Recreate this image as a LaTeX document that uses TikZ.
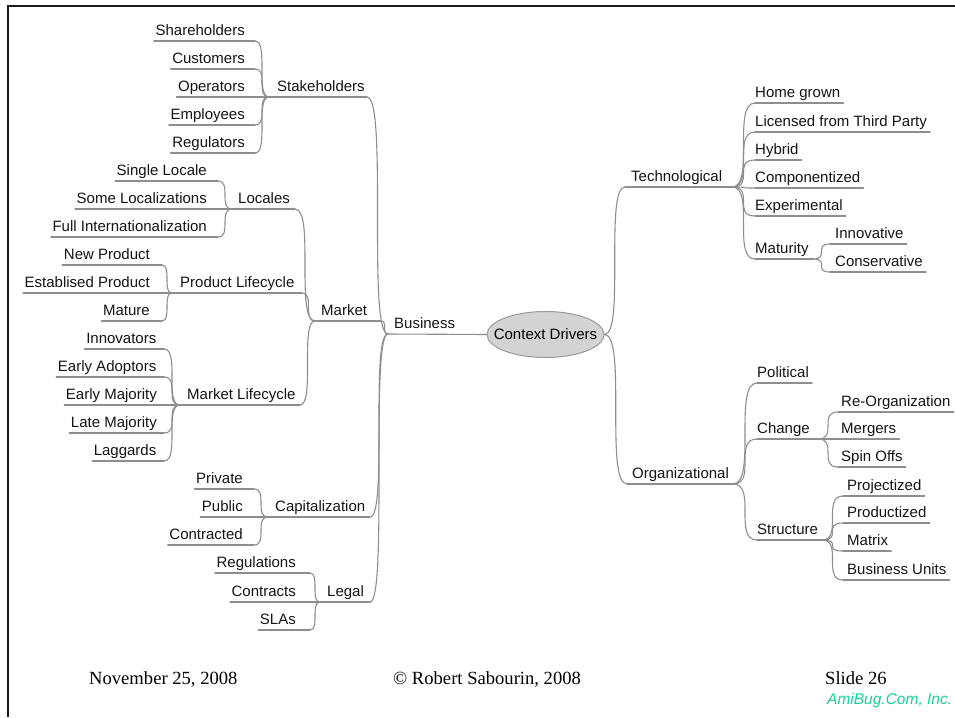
\documentclass[tikz,border=0pt]{standalone}
\usepackage{fontspec}
\setmainfont{Liberation Sans}
\newfontfamily\footfont{Liberation Serif}
\usetikzlibrary{calc,shapes.geometric}
\definecolor{lncol}{HTML}{8E8E8E}
\definecolor{ellfill}{HTML}{D3D3D3}
\definecolor{ellline}{HTML}{9A9A9A}
\definecolor{amigreen}{RGB}{20,210,150}
\tikzset{
  lbl/.style={inner sep=0pt, font=\fontsize{15}{17}\selectfont, text=black!92},
  ln/.style={draw=lncol, line width=1.1pt, line cap=round},
  foot/.style={inner sep=0pt, font=\footfont\fontsize{18.6}{20}\selectfont, anchor=base west}
}
\newcommand\mmLeft[5]{%
  \node[lbl,anchor=base east] (#1) at (#3,#4-5.5) {#2};
  \coordinate (#1-a) at ($(#1.base west)+(-1.5,5.5)$);
  \coordinate (#1-b) at (#5,#4);
  \draw[ln] (#1-a) -- (#1-b);}
\newcommand\mmRight[5]{%
  \node[lbl,anchor=base west] (#1) at (#3,#4-5.5) {#2};
  \coordinate (#1-a) at (#5,#4);
  \coordinate (#1-b) at ($(#1.base east)+(3,5.5)$);
  \draw[ln] (#1-a) -- (#1-b);}
\newcommand\mmMid[6]{%
  \node[lbl,anchor=base west] (#1) at (#3,#4-5.5) {#2};
  \coordinate (#1-a) at (#5,#4);
  \coordinate (#1-b) at (#6,#4);
  \draw[ln] (#1-a) -- (#1-b);}
\newcommand\mmEdge[2]{%
  \draw[ln] let \p1=(#1),\p2=(#2) in (\p1) .. controls (\x2,\y1) and (\x1,\y2) .. (\p2);}
\begin{document}
\begin{tikzpicture}[x=1pt,y=-1pt]
\useasboundingbox (0,0) rectangle (955,717);
% frame
\draw[line width=2.3pt, black!90] (7.8,717) -- (7.8,6.2) -- (955,6.2);

% centre
\node[ellipse, draw=ellline, fill=ellfill, line width=1pt, minimum width=117pt, minimum height=46pt, inner sep=0pt, font=\fontsize{15}{17}\selectfont] (ctx) at (545.5,334.5) {\makebox[0pt]{Context Drivers}};

% Business
\node[lbl,anchor=base west] (business) at (394,328.5) {Business};
\coordinate (business-a) at (388,334);
\draw[ln] (business-a) -- (ctx.west);

% Stakeholders
\mmMid{stake}{Stakeholders}{277}{97}{269}{367}
\mmLeft{shareh}{Shareholders}{245}{41}{255}
\mmLeft{custom}{Customers}{245}{69}{255}
\mmLeft{operat}{Operators}{245}{97}{255}
\mmLeft{employ}{Employees}{245}{125}{255}
\mmLeft{regula}{Regulators}{245}{153}{255}
\mmEdge{shareh-b}{stake-a}
\mmEdge{custom-b}{stake-a}
\mmEdge{operat-b}{stake-a}
\mmEdge{employ-b}{stake-a}
\mmEdge{regula-b}{stake-a}

% Market
\mmMid{market}{Market}{321}{321}{315}{381}
\mmMid{locales}{Locales}{238}{209}{232}{295}
\mmLeft{single}{Single Locale}{207}{181}{218}
\mmLeft{somelo}{Some Localizations}{207}{209}{218}
\mmLeft{fullin}{Full Internationalization}{207}{237}{218}
\mmEdge{single-b}{locales-a}
\mmEdge{somelo-b}{locales-a}
\mmEdge{fullin-b}{locales-a}

\mmMid{prodlc}{Product Lifecycle}{180}{293}{172}{302}
\mmLeft{newpro}{New Product}{150}{265}{162}
\mmLeft{estpro}{Establised Product}{150}{293}{162}
\mmLeft{mature}{Mature}{150}{321}{162}
\mmEdge{newpro-b}{prodlc-a}
\mmEdge{estpro-b}{prodlc-a}
\mmEdge{mature-b}{prodlc-a}

\mmMid{marklc}{Market Lifecycle}{187}{405}{180}{300}
\mmLeft{innova}{Innovators}{156.5}{349}{164}
\mmLeft{earlya}{Early Adoptors}{156.5}{377}{164}
\mmLeft{earlym}{Early Majority}{157}{405}{164}
\mmLeft{latema}{Late Majority}{157}{433}{164}
\mmLeft{laggar}{Laggards}{156.5}{461}{164}
\mmEdge{innova-b}{marklc-a}
\mmEdge{earlya-b}{marklc-a}
\mmEdge{earlym-b}{marklc-a}
\mmEdge{latema-b}{marklc-a}
\mmEdge{laggar-b}{marklc-a}

\mmEdge{locales-b}{market-a}
\mmEdge{prodlc-b}{market-a}
\mmEdge{marklc-b}{market-a}

% Capitalization
\mmMid{capit}{Capitalization}{275}{517}{268}{370}
\mmLeft{privat}{Private}{243}{489}{254}
\mmLeft{public}{Public}{243}{517}{254}
\mmLeft{contrd}{Contracted}{243}{545}{254}
\mmEdge{privat-b}{capit-a}
\mmEdge{public-b}{capit-a}
\mmEdge{contrd-b}{capit-a}

% Legal
\mmMid{legal}{Legal}{327}{602}{320}{370}
\mmLeft{regs}{Regulations}{296}{573}{310}
\mmLeft{contrs}{Contracts}{296}{602}{310}
\mmLeft{slas}{SLAs}{296}{630}{310}
\mmEdge{regs-b}{legal-a}
\mmEdge{contrs-b}{legal-a}
\mmEdge{slas-b}{legal-a}

% to Business
\mmEdge{stake-b}{business-a}
\mmEdge{market-b}{business-a}
\mmEdge{capit-b}{business-a}
\mmEdge{legal-b}{business-a}

% Technological
\mmMid{techno}{Technological}{631}{187}{625}{732}
\mmRight{homegr}{Home grown}{755}{103}{755}
\mmRight{licens}{Licensed from Third Party}{755}{132}{755}
\mmRight{hybrid}{Hybrid}{755}{160}{755}
\mmRight{compon}{Componentized}{755}{188}{755}
\mmRight{experi}{Experimental}{755}{216}{755}
\mmMid{maturi}{Maturity}{755}{259}{755}{813}
\mmRight{innovt}{Innovative}{835}{244}{830}
\mmRight{conser}{Conservative}{835}{272}{830}
\mmEdge{techno-b}{homegr-a}
\mmEdge{techno-b}{licens-a}
\mmEdge{techno-b}{hybrid-a}
\mmEdge{techno-b}{compon-a}
\mmEdge{techno-b}{experi-a}
\mmEdge{techno-b}{maturi-a}
\mmEdge{maturi-b}{innovt-a}
\mmEdge{maturi-b}{conser-a}

% Organizational
\mmMid{organi}{Organizational}{632}{484}{627}{733}
\mmRight{politi}{Political}{757}{383}{757}
\mmMid{change}{Change}{757}{439}{757}{818}
\mmRight{reorga}{Re-Organization}{841}{412}{838}
\mmRight{merger}{Mergers}{841}{439}{838}
\mmRight{spinof}{Spin Offs}{841}{467}{838}
\mmMid{struct}{Structure}{757}{540}{757}{822}
\mmRight{projec}{Projectized}{847}{496}{843}
\mmRight{produc}{Productized}{847}{523}{843}
\mmRight{matrix}{Matrix}{847}{551}{843}
\mmRight{busuni}{Business Units}{847}{580}{843}
\mmEdge{organi-b}{politi-a}
\mmEdge{organi-b}{change-a}
\mmEdge{organi-b}{struct-a}
\mmEdge{change-b}{reorga-a}
\mmEdge{change-b}{merger-a}
\mmEdge{change-b}{spinof-a}
\mmEdge{struct-b}{projec-a}
\mmEdge{struct-b}{produc-a}
\mmEdge{struct-b}{matrix-a}
\mmEdge{struct-b}{busuni-a}

\mmEdge{ctx.east}{techno-a}
\mmEdge{ctx.east}{organi-a}

% footer
\node[foot] (date) at (89,684) {November 25, 2008};
\node[foot] (copy) at (393,684) {© Robert Sabourin, 2008};
\node[foot] (slide) at (825,684) {Slide 26};
\node[inner sep=0pt, anchor=base west, font=\fontsize{15.5}{17}\selectfont\itshape, text=amigreen] (ami) at (827,704) {AmiBug.Com, Inc.};
\end{tikzpicture}
\end{document}
